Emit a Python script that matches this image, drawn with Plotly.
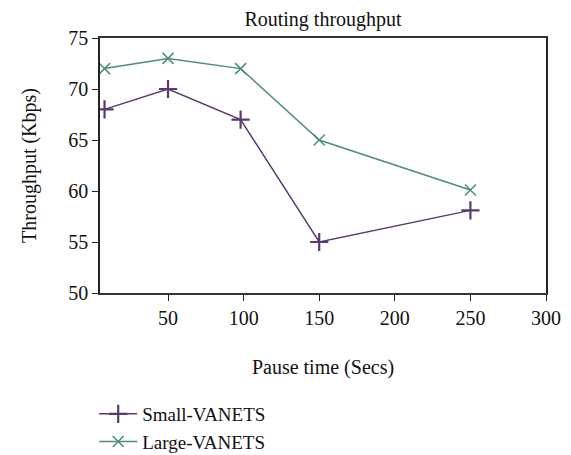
import plotly.graph_objects as go

pause_time = [8, 50, 98, 150, 250]
small_vanets = [68, 70, 67, 55, 58.1]
large_vanets = [72, 73, 72, 65, 60.1]
x_ticks = [50, 100, 150, 200, 250, 300]
y_ticks = [50, 55, 60, 65, 70, 75]

font = "Liberation Serif, Times New Roman, serif"
purple = "#5a3a6e"
green = "#4b8f78"

W, H = 563, 447
L, R, T, B = 92, 25, 30, 162

fig = go.Figure()
fig.add_trace(go.Scatter(
    x=pause_time, y=small_vanets, mode="lines+markers", name="Small-VANETS",
    line=dict(color=purple, width=1.5),
    marker=dict(symbol="cross-thin", size=13, line=dict(color=purple, width=2.2)),
))
fig.add_trace(go.Scatter(
    x=pause_time, y=large_vanets, mode="lines+markers", name="Large-VANETS",
    line=dict(color=green, width=1.5),
    marker=dict(symbol="x-thin", size=11, line=dict(color=green, width=1.5)),
))

fig.update_layout(
    width=W, height=H,
    margin=dict(l=L, r=R, t=T, b=B, autoexpand=False),
    paper_bgcolor="white", plot_bgcolor="white",
    font=dict(family=font, size=20, color="#111"),
    title=dict(text="Routing throughput", x=(L + (W - R)) / 2 / W, xanchor="center",
               y=1 - 4 / H, yanchor="top", font=dict(size=20)),
    showlegend=True,
    legend=dict(x=-0.013, y=1 - (395 - 8) / H, yref="container", xanchor="left", yanchor="top",
                font=dict(size=19), itemwidth=38, tracegroupgap=0,
                bgcolor="rgba(0,0,0,0)"),
    xaxis=dict(range=[5, 300], tickvals=x_ticks, showgrid=False, zeroline=False,
               showline=True, linecolor="#333", linewidth=1.5, mirror=True,
               ticks="outside", ticklen=6, tickcolor="#222", automargin=False,
               title=dict(text="Pause time (Secs)", standoff=32, font=dict(size=20))),
    yaxis=dict(range=[50, 75], tickvals=y_ticks, showgrid=False, zeroline=False,
               showline=True, linecolor="#222", linewidth=1.5, mirror=True,
               ticks="outside", ticklen=6, tickcolor="#222", automargin=False,
               title=dict(text="Throughput (Kbps)", standoff=26, font=dict(size=20))),
)

fig.write_html("out.html")
